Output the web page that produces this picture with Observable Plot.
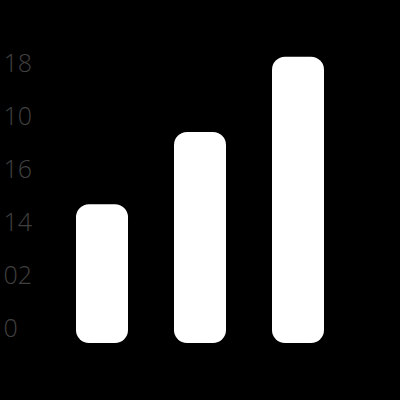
<!DOCTYPE html>
<html>
<head>
<meta charset="utf-8">
<script src="https://cdn.jsdelivr.net/npm/d3@7"></script>
<script src="https://cdn.jsdelivr.net/npm/@observablehq/plot@0.6"></script>
<style>
  html, body { margin: 0; padding: 0; background: #000; }
  #chart svg { display: block; }
</style>
</head>
<body>
<div id="chart"></div>
<script>
const categories = ["A", "B", "C"];
const values = [2.62, 3.98, 5.4];
const tickValues = [0, 1, 2, 3, 4, 5];
const tickLabels = ["0", "02", "14", "16", "10", "18"];

const data = categories.map((c, i) => ({category: c, value: values[i]}));

const chart = Plot.plot({
  width: 400,
  height: 400,
  marginTop: 25,
  marginBottom: 57,
  marginLeft: 30,
  marginRight: 30,
  style: {background: "#000", fontFamily: "Open Sans", fontSize: "25px"},
  x: {domain: categories, padding: 0.469, axis: null},
  y: {domain: [0, 6]},
  marks: [
    Plot.axisY({
      ticks: tickValues,
      tickFormat: (d, i) => tickLabels[i],
      tickSize: 0,
      tickPadding: 27,
      textAnchor: "start",
      dy: -15,
      fill: "#404040",
      fontSize: 25,
      fontWeight: 300,
      label: null
    }),
    Plot.barY(data, {x: "category", y: "value", fill: "#fff", rx: 13})
  ]
});
document.getElementById("chart").appendChild(chart);
</script>
</body>
</html>
